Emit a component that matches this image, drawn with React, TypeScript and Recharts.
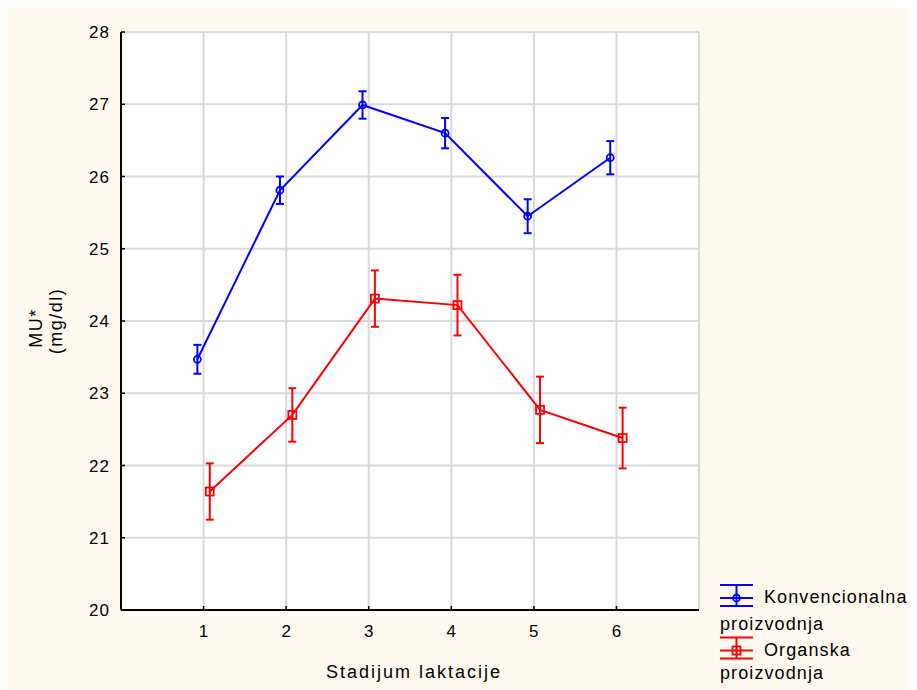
import React from 'react';
import { ComposedChart, Line, XAxis, YAxis, CartesianGrid, ErrorBar, Legend } from 'recharts';

const stages = [1, 2, 3, 4, 5, 6];
const konvMean = [23.47, 25.81, 26.99, 26.6, 25.45, 26.26];
const konvErr = [0.2, 0.19, 0.19, 0.21, 0.235, 0.23];
const orgMean = [21.64, 22.7, 24.31, 24.22, 22.77, 22.38];
const orgErr = [0.39, 0.37, 0.39, 0.42, 0.46, 0.42];
const yTicks = [20, 21, 22, 23, 24, 25, 26, 27, 28];
const seriesNames = ['Konvencionalna proizvodnja', 'Organska proizvodnja'];
const seriesColors = ['#0000ff', '#ff0000'];
const xTitle = 'Stadijum laktacije';
const yTitleLines = ['MU*', '(mg/dl)'];
const jitter = 0.075;

const konvData = stages.map((s, i) => ({ x: s - jitter, y: konvMean[i], err: konvErr[i] }));
const orgData = stages.map((s, i) => ({ x: s + jitter, y: orgMean[i], err: orgErr[i] }));

const FONT = '"Liberation Sans", Arial, sans-serif';

const LeftTick = (props: any) => {
  const { x, y, payload } = props;
  return (
    <g>
      <line x1={x + 11} x2={x + 15} y1={y} y2={y} stroke="#000" strokeWidth={1.5} />
      <text x={x} y={y} dy="0.36em" textAnchor="end" fontFamily={FONT} fontSize={17} letterSpacing={1} fill="#000">
        {payload.value}
      </text>
    </g>
  );
};

const BottomTick = (props: any) => {
  const { x, y, payload } = props;
  return (
    <g>
      <line x1={x} x2={x} y1={y - 15} y2={y - 19} stroke="#000" strokeWidth={1.5} />
      <text x={x} y={y} dy="0.72em" textAnchor="middle" fontFamily={FONT} fontSize={17} fill="#000">
        {payload.value}
      </text>
    </g>
  );
};

const TopTick = (props: any) => {
  const { x, y } = props;
  return <line x1={x} x2={x} y1={y} y2={y + 4} stroke="#000" strokeWidth={1.5} />;
};

const RightTick = (props: any) => {
  const { x, y } = props;
  return <line x1={x} x2={x - 4} y1={y} y2={y} stroke="#000" strokeWidth={1.5} />;
};

const YTitle = (props: any) => {
  const vb = props.viewBox;
  const cy = vb.y + vb.height / 2;
  const a = { x: vb.x + 34, y: cy + 7 };
  const b = { x: vb.x + 54, y: cy };
  return (
    <g fontFamily={FONT} fontSize={18} fill="#000">
      <text x={a.x} y={a.y} textAnchor="middle" letterSpacing={1.5} transform={`rotate(-90, ${a.x}, ${a.y})`}>
        {yTitleLines[0]}
      </text>
      <text x={b.x} y={b.y} textAnchor="middle" letterSpacing={1.5} transform={`rotate(-90, ${b.x}, ${b.y})`}>
        {yTitleLines[1]}
      </text>
    </g>
  );
};

const XTitle = (props: any) => {
  const vb = props.viewBox;
  return (
    <text x={vb.x + vb.width / 2 + 4} y={vb.y + 68} textAnchor="middle" fontFamily={FONT} fontSize={18} letterSpacing={2} fill="#000">
      {xTitle}
    </text>
  );
};

const SquareDot = (props: any) => {
  const { cx, cy, stroke } = props;
  if (cx == null || cy == null) return null;
  return <rect x={cx - 4} y={cy - 4} width={8} height={8} fill="none" stroke={stroke} strokeWidth={1.8} />;
};

const LegendContent = (props: any) => {
  const payload = props.payload || [];
  return (
    <svg width={205} height={112} style={{ overflow: 'visible' }}>
      {payload.map((entry: any, i: number) => {
        const dy = i * 52.5;
        const color = entry.color;
        const words = String(entry.value).split(' ');
        const c = 20 + dy;
        return (
          <g key={i} fontFamily={FONT} fontSize={18} fill="#000">
            <line x1={8} x2={41} y1={7 + dy} y2={7 + dy} stroke={color} strokeWidth={2} />
            <line x1={8} x2={41} y1={28 + dy} y2={28 + dy} stroke={color} strokeWidth={2} />
            <line x1={8} x2={41} y1={c} y2={c} stroke={color} strokeWidth={2} />
            <line x1={24.5} x2={24.5} y1={7 + dy} y2={28 + dy} stroke={color} strokeWidth={2} />
            {i === 0 ? (
              <circle cx={24.5} cy={c} r={3.5} fill="none" stroke={color} strokeWidth={1.8} />
            ) : (
              <rect x={20.5} y={c - 4} width={8} height={8} fill="none" stroke={color} strokeWidth={1.8} />
            )}
            <text x={52} y={25 + dy} letterSpacing={1.1}>{words[0]}</text>
            <text x={8} y={52 + dy - i * 4} letterSpacing={1.1}>{words.slice(1).join(' ')}</text>
          </g>
        );
      })}
    </svg>
  );
};

export default function App() {
  return (
    <div style={{ width: 909, height: 682, background: '#FFFAF0', position: 'relative' }}>
      <ComposedChart width={909} height={682} margin={{ top: 24, right: 218, bottom: 0, left: 0 }}>
        <CartesianGrid fill="#ffffff" stroke="#d9d9d9" strokeWidth={2} />
        <XAxis
          xAxisId={0}
          type="number"
          dataKey="x"
          domain={[0, 7]}
          ticks={stages}
          height={80}
          tickSize={0}
          tickMargin={15}
          tick={<BottomTick />}
          axisLine={{ stroke: '#000', strokeWidth: 2 }}
          label={<XTitle />}
          allowDataOverflow
        />
        <XAxis
          xAxisId="top"
          orientation="top"
          type="number"
          dataKey="x"
          domain={[0, 7]}
          ticks={stages}
          height={0}
          tickSize={0}
          tickMargin={0}
          tick={<TopTick />}
          axisLine={{ stroke: '#000', strokeWidth: 2 }}
          allowDataOverflow
        />
        <YAxis
          yAxisId={0}
          type="number"
          domain={[20, 28]}
          ticks={yTicks}
          width={113}
          tickSize={0}
          tickMargin={11}
          tick={<LeftTick />}
          axisLine={{ stroke: '#000', strokeWidth: 2 }}
          label={<YTitle />}
          allowDataOverflow
        />
        <YAxis
          yAxisId="right"
          orientation="right"
          type="number"
          domain={[20, 28]}
          ticks={yTicks}
          width={0}
          tickSize={0}
          tickMargin={0}
          tick={<RightTick />}
          axisLine={{ stroke: '#000', strokeWidth: 2 }}
          allowDataOverflow
        />
        <Line
          data={konvData}
          dataKey="y"
          name={seriesNames[0]}
          stroke={seriesColors[0]}
          strokeWidth={2}
          dot={{ r: 3.5, fill: 'none', stroke: seriesColors[0], strokeWidth: 1.8 }}
          activeDot={false}
          isAnimationActive={false}
        >
          <ErrorBar dataKey="err" direction="y" width={4} stroke={seriesColors[0]} strokeWidth={2} isAnimationActive={false} />
        </Line>
        <Line
          data={orgData}
          dataKey="y"
          name={seriesNames[1]}
          stroke={seriesColors[1]}
          strokeWidth={2}
          dot={<SquareDot />}
          activeDot={false}
          isAnimationActive={false}
        >
          <ErrorBar dataKey="err" direction="y" width={4} stroke={seriesColors[1]} strokeWidth={2} isAnimationActive={false} />
        </Line>
        <Legend
          layout="horizontal"
          verticalAlign="middle"
          align="center"
          wrapperStyle={{ left: 704, top: 570, width: 205, height: 112 }}
          content={<LegendContent />}
        />
      </ComposedChart>
    </div>
  );
}
